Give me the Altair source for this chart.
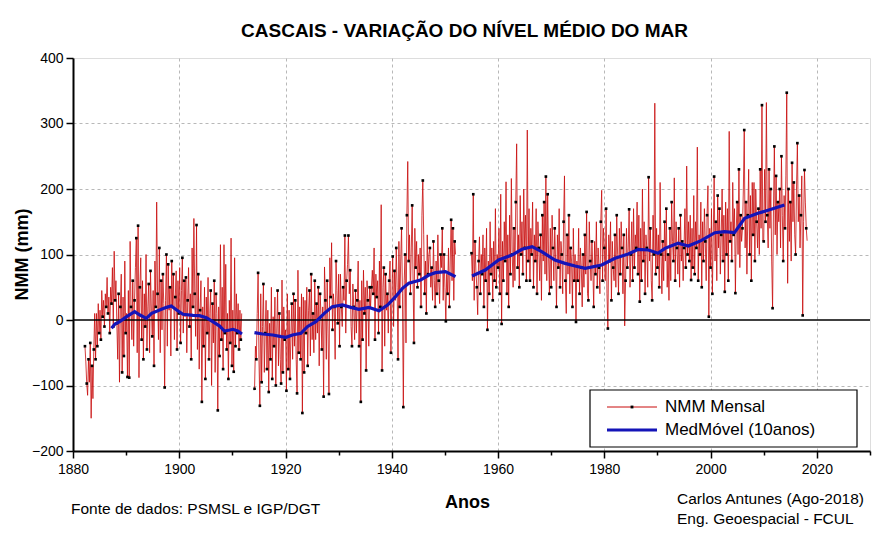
import altair as alt
import pandas as pd

STEP = 1.0 / 6.0

# ---- Monthly-ish sea level (mm) ----
seg1_start = 1882.25
seg1 = [
    -40, -64, -97, -115, -60, -95,
    -35, -150, -70, -120, -45, 10,
    -60, 10, -40, 25, -20, 15,
    -30, 45, 5, 30, -10, 40,
    20, 65, 10, 35, -20, 50,
    25, 80, -10, 105, 30, 60,
    -5, -60, 40, -95, 20, 70,
    -80, 35, -55, 90, -20, 10,
    -87, 45, -88, 120, 20, -30,
    60, -40, 30, 80, 125, -50,
    144, -88, 50, 95, -30, 60,
    -60, 40, -10, 100, -45, 20,
    55, -50, 75, 15, -25, 45,
    -70, 90, 20, 180, 40, -30,
    110, -50, 60, -15, 70, 25,
    -103, 30, 100, -40, 85, 15,
    50, -55, 90, 20, 70, -30,
    35, 75, -45, 60, 10, 80,
    -35, 45, 95, -20, 60, 5,
    65, -50, 30, 80, -10, 40,
    -60, 110, 20, 155, 40, -25,
    145, -45, 70, -75, 15, 60,
    -125, 20, -40, 50, -90, 35,
    -20, 65, -60, 10, 45, -100,
    25, -35, 60, -80, 40, 10,
    -138, 20, -55, 115, -30, 50,
    -75, 115, -20, 85, -45, 10,
    -90, 30, -35, 125, -70, 15,
    -79, 95, -40, 40, -20, 25,
    -45, 15, -30, 10,
]

seg2_start = 1914.17
seg2 = [
    -105, -40, -60, 10, 72, -60,
    -131, 40, -95, -10, 55, -80,
    -20, 30, -75, 15, -110, -5,
    -60, 50, -90, 5, -40, 35,
    -100, -20, 45, -70, 10, -60,
    -97, 61, -80, 20, -30, -15,
    -108, 40, -75, 15, -90, -25,
    25, -60, 40, -40, 30, -60,
    -112, 76, -50, 20, -60, 40,
    -142, 35, -80, 30, -20, 50,
    -70, 15, 45, -55, 70, -30,
    10, -50, 60, -30, 25, -20,
    50, -70, 40, 10, -45, 20,
    -117, 81, 30, -60, 60, -20,
    -113, 95, 35, 118, -15, 40,
    20, -60, 90, 45, -5, 70,
    -40, 70, 20, -10, 50, 30,
    129, -20, 60, 85, 129, 40,
    76, -10, -40, 55, 20, -30,
    45, -20, 30, 90, -40, 30,
    -125, 60, -30, 76, 10, 50,
    -77, 60, 30, -40, 50, 20,
    50, 76, 40, 110, -30, 70,
    35, 60, -20, 90, 20, 176,
    -77, 50, 80, -40, 70, 15,
    40, -20, 60, 90, -50, 30,
    97, -10, 75, 30, 110, 50,
    -60, 120, 20, 90, 140, 40,
    -133, 60, 100, -35, 160, 242,
    90, 130, 40, 110, 175, 60,
    -35, 140, 80, 120, 50, 100,
    70, 110, 20, 160, 213, 130,
    40, 90, 10, 130, 70, 100,
    110, 50, 80, 30, 120, 60,
    20, 90, 40, 130, 60, 25,
    100, 80, 140, 30, 100, 50,
    -2, 70, 40, 110, 20, 90,
    153, 60, 140, 30, 120, 100,
]

seg3_start = 1955.0
seg3 = [
    102, 60, 192, 30, 120, 75,
    50, 8, 90, 127, 40, 100,
    70, 130, 20, 110, 60, 140,
    -15, 90, 40, 150, 70, 110,
    30, 120, 60, 170, 50, 100,
    80, 140, 40, 192, -6, 120,
    60, 150, 90, 211, 40, 130,
    20, 160, 70, 216, 100, 50,
    140, 60, 180, 269, 80, 130,
    50, 190, 100, 150, 70, 200,
    110, 160, 60, 290, 90, 170,
    60, 140, 100, 180, 50, 130,
    90, 170, 40, 150, 110, 60,
    130, 30, 160, 90, 180, 70,
    219, 60, 192, 100, 40, 140,
    50, 160, 110, 60, 140, 90,
    20, 130, 80, 170, 50, 120,
    100, 40, 150, 220, 60, 10,
    130, 70, 160, 40, 110, 90,
    20, 140, 60, 100, -3, 90,
    60, 140, 40, 110, 80, 20,
    100, 50, 130, 70, 165, 40,
    30, 150, 90, 60, 120, 80,
    20, 120, 70, 150, 50, 110,
    80, 40, 150, 198, 60, 140,
    110, 60, 170, 40, -13, 130,
    90, 150, 30, 120, 80, 60,
    130, 50, 160, 100, 40, 140,
    70, 150, 110, 40, 130, -9,
    60, 140, 80, 110, 169, 50,
    100, 150, 60, 170, 80, 130,
    110, 180, 70, 160, 28, 140,
    60, 200, 90, 150, 40, 130,
    110, 50, 218, 90, 140, 60,
    30, 160, 100, 331, 70, 140,
    80, 130, 50, 210, 100, 40,
    120, 60, 150, 90, 170, 50,
    100, 30, 140, 60, 180, 120,
    90, 217, 60, 150, 110, 70,
    140, 50, 160, 90, 120, 60,
    110, 170, 80, 235, 100, 150,
    90, 160, 61, 140, 80, 190,
    70, 150, 110, 264, 60, 130,
    100, 180, 50, 150, 90, 170,
    120, 60, 160, 205, 5, 140,
    80, 170, 40, 130, 219, 90,
    150, 60, 190, 110, 170, 70,
    130, 200, 90, 160, 43, 180,
    100, 170, 60, 288, 120, 150,
    90, 210, 130, 170, 41, 140,
    180, 100, 230, 80, 160, 120,
    140, 200, 290, 110, 180, 70,
    160, 230, 100, 190, 60, 210,
    130, 210, 90, 200, 150, 110,
    170, 100, 230, 140, 328, 120,
    120, 230, 150, 332, 160, 110,
    230, 140, 200, 90, 18, 170,
    265, 130, 220, 100, 180, 150,
    200, 110, 250, 160, 90, 190,
    140, 220, 347, 56, 200, 120,
    180, 90, 240, 150, 210, 130,
    100, 200, 270, 150, 190, 110,
    160, 220, 7, 150, 229, 180,
    140, 121,
]

# ---- 10-year moving average (mm) ----
ma1_year = [1887.25, 1887.9, 1888.8, 1890.1, 1891.6, 1892.6, 1893.8, 1894.8, 1896.3, 1897.6,
            1898.5, 1899.5, 1900.7, 1902.6, 1903.8, 1905.1, 1906.3, 1907.6, 1908.5, 1909.5,
            1910.1, 1911.0, 1911.8]
ma1_val = [-12.7, -6.1, -2.5, 5.1, 12.7, 7.6, 2.5, 10.2, 15.3, 19.3,
           21.4, 15.3, 8.7, 7.1, 6.6, 3.6, -2.5, -9.2, -16.8, -15.3,
           -14.2, -16.8, -21.4]
ma2_year = [1914.15, 1915.7, 1917.6, 1919.2, 1920.1, 1921.3, 1922.9, 1924.1, 1925.7, 1927.3,
            1928.8, 1930.7, 1932.3, 1933.8, 1935.7, 1937.6, 1939.2, 1940.7, 1942.0, 1943.2,
            1945.4, 1947.0, 1948.2, 1950.1, 1952.0]
ma2_val = [-19.3, -21.4, -22.9, -25.4, -26.5, -22.9, -20.4, -10.2, -2.5, 10.2,
           20.4, 22.9, 19.3, 16.3, 19.3, 14.2, 22.9, 35.6, 48.3, 56,
           61, 68.7, 72.3, 73.8, 66.2]
ma3_year = [1955.1, 1957.6, 1960.1, 1962.6, 1964.5, 1966.4, 1968.2, 1970.7, 1972.6, 1974.5,
            1976.4, 1979.5, 1982.0, 1984.5, 1986.4, 1988.3, 1990.1, 1991.4, 1993.9, 1995.8,
            1998.2, 2000.8, 2002.6, 2004.5, 2006.4, 2008.9, 2011.4, 2013.9]
ma3_val = [67.2, 76.3, 91.6, 99.2, 107.9, 112, 104.3, 91.6, 86.5, 82.4,
           78.9, 84, 94.2, 100.8, 107.9, 106.9, 101.8, 109.4, 117.1, 113,
           121.1, 133.3, 134.8, 133.3, 155.3, 162.9, 169, 175.6]

TITLE = "CASCAIS - VARIAÇÃO DO NÍVEL MÉDIO DO MAR"
FONT = "Liberation Sans"
RED = "#c80a0a"
BLUE = "#1414b8"

# ---- build tables ----
rows = []
for seg_id, (start, vals) in enumerate([(seg1_start, seg1), (seg2_start, seg2), (seg3_start, seg3)]):
    for i, v in enumerate(vals):
        rows.append({"t": start + i * STEP, "v": v, "seg": seg_id, "idx": i})
monthly = pd.DataFrame(rows)

ma_rows = []
for seg_id, (ys, vs) in enumerate([(ma1_year, ma1_val), (ma2_year, ma2_val), (ma3_year, ma3_val)]):
    for y, v in zip(ys, vs):
        ma_rows.append({"t": y, "v": v, "seg": seg_id})
ma = pd.DataFrame(ma_rows)

xscale = alt.Scale(domain=[1880, 2030], nice=False, zero=False)
yscale = alt.Scale(domain=[-200, 400], nice=False, zero=False)

xaxis = alt.Axis(
    values=list(range(1880, 2031, 10)),
    format="d",
    labelExpr="datum.value % 20 == 0 ? datum.label : ''",
    title="Anos",
    titleFont=FONT, titleFontSize=18, titleFontWeight="bold",
    titleX=394, titleY=51, titleBaseline="middle",
    labelFont=FONT, labelFontSize=14, labelColor="black", labelPadding=4,
    labelFlush=False, labelOverlap=False,
    tickColor="black", tickWidth=1.5,
    tickSize={"condition": {"test": "datum.value % 20 == 0", "value": 7}, "value": 4},
    domainColor="black", domainWidth=2,
    grid=True, gridColor="#b8b8b8", gridDash=[3, 3], gridWidth=1,
    gridOpacity={"condition": {"test": "datum.value % 20 == 0 && datum.value > 1880 && datum.value < 2030",
                               "value": 1}, "value": 0},
)
yaxis = alt.Axis(
    values=list(range(-200, 401, 50)),
    labelExpr="datum.value % 100 == 0 ? datum.label : ''",
    title="NMM (mm)",
    titleFont=FONT, titleFontSize=18, titleFontWeight="bold",
    titleX=-51, titleY=196, titleAngle=-90, titleBaseline="middle",
    labelFont=FONT, labelFontSize=14, labelColor="black", labelPadding=3,
    labelFlush=False, labelOverlap=False,
    tickColor="black", tickWidth=1.5,
    tickSize={"condition": {"test": "datum.value % 100 == 0", "value": 7}, "value": 4},
    domainColor="black", domainWidth=2,
    grid=True, gridColor="#b8b8b8", gridDash=[3, 3], gridWidth=1,
    gridOpacity={"condition": {"test": "datum.value % 100 == 0 && datum.value != 0 && datum.value > -200 && datum.value < 400",
                               "value": 1}, "value": 0},
)

base = alt.Chart(monthly)

red = base.mark_line(color=RED, strokeWidth=0.8).encode(
    x=alt.X("t:Q", scale=xscale, axis=xaxis),
    y=alt.Y("v:Q", scale=yscale, axis=yaxis),
    detail="seg:N",
)
dots = base.transform_filter("datum.idx % 2 == 0").mark_square(color="black", size=7, opacity=1).encode(
    x="t:Q", y="v:Q"
)
zero = alt.Chart(pd.DataFrame({"z": [0]})).mark_rule(color="black", strokeWidth=1.5).encode(y="z:Q")

blue = alt.Chart(ma).mark_line(color=BLUE, strokeWidth=3.2).encode(
    x="t:Q", y="v:Q", detail="seg:N"
)

one = pd.DataFrame({"a": [0]})
leg_box = alt.Chart(one).mark_rect(fill="white", stroke="black", strokeWidth=1.2).encode(
    x=alt.value(517), x2=alt.value(784), y=alt.value(332), y2=alt.value(389)
)
leg_red = alt.Chart(one).mark_rule(color=RED, strokeWidth=1).encode(
    x=alt.value(534), x2=alt.value(584), y=alt.value(349)
)
leg_dot = alt.Chart(one).mark_square(color="black", size=8, opacity=1).encode(
    x=alt.value(559), y=alt.value(349)
)
leg_blue = alt.Chart(one).mark_rule(color=BLUE, strokeWidth=3.2).encode(
    x=alt.value(534), x2=alt.value(584), y=alt.value(372)
)
leg_t1 = alt.Chart(one).mark_text(text="NMM Mensal", font=FONT, fontSize=17, align="left",
                                   baseline="middle", color="black").encode(
    x=alt.value(592), y=alt.value(349)
)
leg_t2 = alt.Chart(one).mark_text(text="MedMóvel (10anos)", font=FONT, fontSize=17, align="left",
                                   baseline="middle", color="black").encode(
    x=alt.value(592), y=alt.value(372)
)

foot1 = alt.Chart(one).mark_text(text="Fonte de dados: PSMSL e IGP/DGT", font=FONT, fontSize=15.5,
                                  align="left", baseline="middle", color="black").encode(
    x=alt.value(-2), y=alt.value(451)
)
foot2 = alt.Chart(one).mark_text(text="Carlos Antunes (Ago-2018)", font=FONT, fontSize=15.5,
                                  align="left", baseline="middle", color="black").encode(
    x=alt.value(604), y=alt.value(441)
)
foot3 = alt.Chart(one).mark_text(text="Eng. Geoespacial - FCUL", font=FONT, fontSize=15.5,
                                  align="left", baseline="middle", color="black").encode(
    x=alt.value(604), y=alt.value(461)
)

chart = alt.layer(
    red, dots, zero, blue,
    leg_box, leg_red, leg_dot, leg_blue, leg_t1, leg_t2,
    foot1, foot2, foot3,
).properties(
    width=797,
    height=393,
    autosize=alt.AutoSizeParams(type="none"),
    padding={"left": 65, "top": 50, "right": 15, "bottom": 76},
    title=alt.TitleParams(TITLE, font=FONT, fontSize=19, fontWeight="bold", anchor="middle",
                          offset=10, dx=-7, color="black"),
).configure_view(
    stroke="black", strokeWidth=2
).configure(background="white")

chart.save("out.html", embed_options={"renderer": "svg", "actions": False})
